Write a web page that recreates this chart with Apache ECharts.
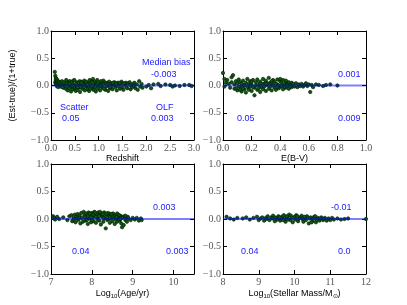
<!DOCTYPE html>
<html><head><meta charset="utf-8">
<script src="https://cdn.jsdelivr.net/npm/echarts@6/dist/echarts.min.js"></script>
<style>html,body{margin:0;padding:0;background:#fff}#c{width:407px;height:305px}</style>
</head><body><div id="c"></div>
<script>
// ---------- data ----------
const yTicks = [-1.0, -0.5, 0.0, 0.5, 1.0];
const redshiftTicks = [0.0, 0.5, 1.0, 1.5, 2.0, 2.5, 3.0];
const ebvTicks = [0.0, 0.2, 0.4, 0.6, 0.8, 1.0];
const ageTicks = [7, 8, 9, 10];
const massTicks = [8, 9, 10, 11, 12];

const redshiftPts = [
 [0.08,0.25],[0.09,0.18],[0.10,0.14],[0.10,0.10],[0.11,0.08],[0.09,0.06],[0.12,0.12],[0.10,0.04],[0.11,0.02],[0.12,-0.01],
 [0.13,0.05],[0.14,0.09],[0.15,0.03],[0.16,0.07],[0.15,-0.03],[0.17,0.01],[0.18,0.04],[0.20,0.06],[0.20,-0.02],[0.22,0.03],
 [0.23,0.08],[0.25,0.00],[0.26,-0.04],[0.28,0.02],[0.30,0.05],[0.31,-0.06],[0.32,0.10],[0.35,-0.09],[0.36,0.02],[0.37,0.07],
 [0.40,0.08],[0.41,-0.03],[0.42,-0.11],[0.44,0.04],[0.46,-0.07],[0.47,0.09],[0.49,0.10],[0.50,-0.05],[0.51,0.01],[0.52,-0.10],
 [0.54,0.06],[0.55,-0.08],[0.57,0.03],[0.59,-0.04],[0.60,0.08],[0.61,-0.12],[0.63,0.02],[0.65,0.07],[0.66,-0.06],[0.68,0.04],
 [0.70,0.09],[0.71,-0.09],[0.72,0.04],[0.74,-0.02],[0.75,0.06],[0.77,-0.07],[0.79,0.05],[0.80,-0.10],[0.81,0.10],[0.83,0.03],
 [0.85,-0.05],[0.86,0.08],[0.88,0.12],[0.89,-0.08],[0.90,0.02],[0.92,0.07],[0.94,-0.11],[0.95,0.04],[0.97,0.10],[0.98,-0.06],
 [1.00,0.01],[1.01,0.05],[1.03,-0.09],[1.05,0.08],[1.06,0.03],[1.08,-0.04],[1.10,0.09],[1.12,0.06],[1.14,-0.08],[1.16,-0.02],
 [1.18,0.05],[1.20,-0.10],[1.22,0.07],[1.24,-0.05],[1.27,0.04],[1.29,-0.07],[1.31,0.02],[1.33,0.06],[1.35,-0.03],[1.38,-0.09],
 [1.40,0.05],[1.43,0.03],[1.45,-0.06],[1.48,0.07],[1.50,-0.04],[1.52,-0.08],[1.55,0.02],[1.57,0.05],[1.60,-0.05],[1.62,0.04],
 [1.65,0.06],[1.67,-0.07],[1.70,-0.03],[1.72,0.03],[1.75,0.05],[1.77,-0.05],[1.80,0.02],[1.82,-0.08],[1.85,0.08],[1.87,-0.02],
 [1.90,0.03],[1.92,-0.04],[0.24,-0.03],[0.33,0.04],[0.38,-0.05],[0.43,0.06],[0.48,-0.02],[0.53,0.03],[0.58,0.05],[0.62,-0.03],
 [0.67,0.01],[0.73,0.07],[0.78,-0.01],[0.84,-0.03],[0.91,-0.04],[0.96,0.02],[1.02,-0.02],[1.09,0.02],[1.15,0.04],[1.21,0.02],
 [1.26,-0.02],[1.34,0.01],[1.42,-0.02],[1.47,0.02],[1.58,-0.02],[1.66,0.01],[1.74,-0.01],
 [0.27,0.06],[0.34,-0.02],[0.39,0.03],[0.45,0.00],[0.56,-0.03],[0.64,0.05],[0.69,-0.03],[0.76,0.02],[0.82,-0.06],[0.87,0.05],
 [0.93,-0.02],[0.99,0.06],[1.04,0.00],[1.11,-0.06],[1.17,0.02],[1.23,-0.03],[1.30,0.05],[1.37,0.03],[1.44,0.05],[1.53,0.04],
 [2.00,-0.02],[2.05,0.01],[2.10,-0.05],[2.15,0.02],[2.25,0.03],[2.30,-0.01],[2.40,0.02],[2.50,0.01],[2.55,-0.02],[2.60,0.00],
 [2.70,-0.01],[2.80,0.01],[2.90,0.01],[2.95,-0.01]
];

const ebvPts = [
 [0.00,0.23],[0.01,0.12],[0.02,0.05],[0.01,-0.02],[0.03,0.10],[0.04,0.03],[0.05,-0.04],[0.06,0.15],[0.06,0.06],[0.07,0.19],
 [0.08,-0.06],[0.08,0.02],[0.09,0.08],[0.10,-0.09],[0.10,0.04],[0.11,0.11],[0.12,-0.03],[0.12,0.06],[0.13,-0.11],[0.14,0.01],
 [0.14,0.09],[0.15,-0.07],[0.16,0.05],[0.16,-0.13],[0.17,0.12],[0.18,-0.05],[0.18,0.03],[0.19,0.08],[0.20,-0.10],[0.20,0.02],
 [0.21,0.10],[0.22,-0.18],[0.22,-0.04],[0.23,0.06],[0.24,-0.08],[0.24,0.11],[0.25,0.01],[0.26,-0.12],[0.26,0.07],[0.27,-0.03],
 [0.28,0.12],[0.28,-0.07],[0.29,0.04],[0.30,-0.10],[0.30,0.09],[0.31,0.01],[0.32,-0.06],[0.32,0.14],[0.33,0.05],[0.34,-0.09],
 [0.34,0.03],[0.35,0.10],[0.36,-0.04],[0.36,0.07],[0.37,-0.08],[0.38,0.11],[0.38,0.02],[0.39,-0.05],[0.40,0.08],[0.40,-0.02],
 [0.41,0.05],[0.42,-0.07],[0.42,0.10],[0.43,0.02],[0.44,-0.04],[0.44,0.07],[0.45,0.04],[0.46,-0.06],[0.46,0.06],[0.47,0.01],
 [0.48,-0.03],[0.48,0.05],[0.49,0.03],[0.50,-0.02],[0.51,0.04],[0.52,-0.03],[0.53,0.02],[0.54,-0.01],[0.55,0.03],[0.56,-0.02],
 [0.57,0.01],[0.58,0.04],[0.59,-0.01],[0.60,0.02],[0.61,-0.12],[0.62,0.01],[0.63,-0.03],[0.65,0.02],[0.67,0.01],[0.70,-0.01],
 [0.72,0.01],[0.75,0.02],[0.80,0.00],
 [0.11,-0.02],[0.13,0.03],[0.15,0.00],[0.17,-0.02],[0.19,-0.01],[0.21,-0.03],[0.23,0.00],[0.25,-0.05],[0.27,0.03],[0.29,-0.02],
 [0.31,0.04],[0.33,-0.02],[0.35,0.00],[0.37,0.03],[0.39,0.00],[0.41,-0.01],[0.43,-0.02],[0.45,0.00],[0.47,-0.02],[0.09,-0.05],
 [0.12,-0.08],[0.14,-0.06],[0.18,-0.08],[0.20,0.07],[0.26,0.04],[0.30,0.03],[0.34,0.08],[0.38,-0.03],[0.40,0.12],[0.44,0.09]
];

const agePts = [
 [7.05,0.05],[7.08,0.02],[7.10,-0.01],[7.15,0.04],[7.20,0.00],[7.30,0.03],[7.40,-0.02],[7.45,0.05],[7.50,0.07],[7.52,-0.04],
 [7.55,0.02],[7.58,0.08],[7.60,-0.06],[7.62,0.04],[7.65,0.09],[7.67,-0.02],[7.70,0.06],[7.72,-0.08],[7.74,0.11],[7.76,0.02],
 [7.78,-0.05],[7.80,0.13],[7.82,0.07],[7.84,-0.03],[7.86,0.10],[7.88,0.04],[7.90,-0.09],[7.92,0.12],[7.94,0.01],[7.96,0.08],
 [7.98,-0.06],[8.00,0.11],[8.02,0.03],[8.04,-0.04],[8.06,0.13],[8.08,0.06],[8.10,-0.07],[8.12,0.09],[8.14,0.02],[8.16,0.12],
 [8.18,-0.03],[8.20,0.07],[8.22,-0.10],[8.24,0.10],[8.26,0.04],[8.28,-0.05],[8.30,0.12],[8.32,0.01],[8.34,-0.17],[8.36,0.08],
 [8.38,-0.02],[8.40,0.11],[8.42,0.05],[8.44,-0.07],[8.46,0.09],[8.48,0.02],[8.50,-0.04],[8.52,0.10],[8.54,0.03],[8.56,-0.09],
 [8.58,0.07],[8.60,0.01],[8.62,-0.05],[8.64,0.08],[8.66,0.03],[8.68,-0.03],[8.70,0.06],[8.72,-0.08],[8.74,-0.15],[8.76,0.04],
 [8.78,-0.11],[8.80,0.05],[8.82,-0.02],[8.84,0.03],[8.86,-0.05],[8.88,0.04],[8.90,0.01],[8.95,-0.02],[9.00,0.02],[9.05,-0.01],
 [9.10,0.02],[9.15,-0.03],[9.20,0.01],[9.22,-0.02],
 [7.64,0.01],[7.70,0.02],[7.84,0.03],[7.90,0.05],[7.98,0.03],[8.04,0.08],[8.10,0.04],[8.18,0.05],[8.26,0.09],[8.34,0.05],
 [8.42,0.00],[8.50,0.06],[8.58,-0.01],[8.66,0.07],[8.74,0.02],[8.82,0.06],[7.88,-0.02],[8.00,-0.02],[8.14,-0.01],[8.28,0.02],
 [8.44,0.03],[8.60,0.04],[8.70,0.00],[7.56,-0.01],[7.95,0.10],[8.08,0.12],[8.20,0.13],[8.35,0.10],[8.48,0.09],[8.62,0.10]
];

const massPts = [
 [8.10,0.04],[8.20,0.01],[8.30,-0.01],[8.40,0.02],[8.55,0.01],[8.65,0.03],[8.75,-0.01],[8.85,0.02],[8.95,0.04],[9.00,-0.02],
 [9.05,0.01],[9.10,0.03],[9.15,-0.03],[9.20,0.02],[9.25,0.05],[9.30,-0.02],[9.35,0.03],[9.40,0.06],[9.45,-0.04],[9.50,0.02],
 [9.55,0.05],[9.60,-0.03],[9.65,0.04],[9.70,0.07],[9.75,-0.05],[9.80,0.03],[9.85,0.08],[9.88,-0.02],[9.90,0.06],[9.95,-0.06],
 [10.00,0.04],[10.05,0.07],[10.10,-0.04],[10.15,0.03],[10.20,0.06],[10.25,-0.05],[10.30,0.02],[10.35,0.05],[10.40,-0.08],[10.45,0.03],
 [10.50,-0.04],[10.55,0.04],[10.60,-0.06],[10.65,0.02],[10.70,-0.03],[10.75,0.03],[10.80,-0.02],[10.85,0.02],[10.90,-0.03],[10.95,0.01],
 [11.00,-0.02],[11.05,0.02],[11.10,-0.01],[11.20,0.01],[11.30,-0.01],[11.40,0.00],[11.50,0.01],[12.00,0.00],
 [9.22,0.00],[9.38,0.01],[9.52,-0.01],[9.62,0.01],[9.72,0.00],[9.82,-0.01],[9.92,0.02],[10.02,-0.01],[10.12,0.01],[10.22,0.00],
 [10.32,-0.02],[10.42,0.01],[10.52,0.00],[10.62,-0.01],[10.72,0.01],[10.82,0.00],[9.45,0.03],[9.68,-0.02],[9.78,0.05],[10.08,0.05],
 [10.28,0.04],[10.48,-0.06],[10.58,0.05],[9.58,0.03]
];

// ---------- chart ----------
const chart = echarts.init(document.getElementById('c'), null, {renderer: 'canvas'});
const serif = 'Liberation Serif';
const sans = 'Liberation Sans';
const grids = [
  {left: 51, top: 31, width: 143, height: 109},
  {left: 223, top: 31, width: 143, height: 109},
  {left: 51, top: 164, width: 143, height: 110},
  {left: 223, top: 164, width: 143, height: 110}
];
const xDefs = [
  {ticks: redshiftTicks, min: 0, max: 3, interval: 0.5, dec: 1, name: 'Redshift'},
  {ticks: ebvTicks, min: 0, max: 1, interval: 0.2, dec: 1, name: 'E(B-V)'},
  {ticks: ageTicks, min: 7, max: 10.5, interval: 1, dec: 0, name: '{a|Log}{s|10}{a|(Age/yr)}'},
  {ticks: massTicks, min: 8, max: 12, interval: 1, dec: 0, name: '{a|Log}{s|10}{a|(Stellar Mass/M}{s|⊙}{a|)}'}
];
const allPts = [redshiftPts, ebvPts, agePts, massPts];
const fmt = (v, d) => {
  const s = Math.abs(v).toFixed(d);
  return '{f|' + (v < 0 ? '\u2212' : '') + s + '}';
};
const tickRich = {f: {fontFamily: serif, fontSize: 10, color: '#555'}};
const lineCommon = {onZero: false, lineStyle: {color: '#000', width: 1}};
const tickCommon = {inside: true, length: 4, lineStyle: {color: '#000'}};
const xAxis = [], yAxis = [], series = [];
grids.forEach((g, i) => {
  const d = xDefs[i];
  xAxis.push({
    type: 'value', gridIndex: i, min: d.min, max: d.max, interval: d.interval, position: 'bottom',
    axisLine: lineCommon, axisTick: tickCommon, splitLine: {show: false},
    axisLabel: {fontFamily: serif, fontSize: 10, color: '#555', margin: 3, rich: tickRich,
      formatter: v => d.ticks.some(t => Math.abs(t - v) < 1e-9) ? fmt(v, d.dec) : ''},
    name: d.name, nameLocation: 'middle', nameGap: 14,
    nameTextStyle: {fontFamily: sans, fontSize: 9, color: '#000',
      rich: {a: {fontFamily: sans, fontSize: 9, color: '#000'}, s: {fontFamily: sans, fontSize: 6, color: '#000', padding: [5, 0, 0, 0]}}}
  });
  xAxis.push({
    type: 'value', gridIndex: i, min: d.min, max: d.max, interval: d.interval, position: 'top',
    axisLine: lineCommon, axisTick: tickCommon, splitLine: {show: false}, axisLabel: {show: false}
  });
  yAxis.push({
    type: 'value', gridIndex: i, min: -1, max: 1, interval: 0.5, position: 'left',
    axisLine: lineCommon, axisTick: tickCommon, splitLine: {show: false},
    axisLabel: {fontFamily: serif, fontSize: 10, color: '#555', margin: 2, rich: tickRich,
      formatter: v => yTicks.some(t => Math.abs(t - v) < 1e-9) ? fmt(v, 1) : ''},
    name: i === 0 ? '(Est-true)/(1+true)' : '', nameLocation: 'middle', nameGap: 34,
    nameTextStyle: {fontFamily: sans, fontSize: 9, color: '#000'}
  });
  yAxis.push({
    type: 'value', gridIndex: i, min: -1, max: 1, interval: 0.5, position: 'right',
    axisLine: lineCommon, axisTick: tickCommon, splitLine: {show: false}, axisLabel: {show: false}
  });
  series.push({
    type: 'scatter', xAxisIndex: 2 * i, yAxisIndex: 2 * i, data: allPts[i],
    symbolSize: 3.4, z: 2,
    itemStyle: {color: '#0d5a0d', borderColor: '#001a00', borderWidth: 0.6, opacity: 1}
  });
  series.push({
    type: 'line', xAxisIndex: 2 * i, yAxisIndex: 2 * i, data: [[d.min, 0], [d.max, 0]],
    symbol: 'none', z: 5, silent: true,
    lineStyle: {color: 'rgba(0,0,255,0.5)', width: 1.8}
  });
});

const blue = '#1a1aff';
const txt = (x, y, s) => ({type: 'text', left: x, top: y,
  style: {text: s, fill: blue, font: '9px "Liberation Sans", Arial, sans-serif'}});
const graphic = [
  txt(142, 58, 'Median bias'), txt(151, 70, '-0.003'),
  txt(60, 103, 'Scatter'), txt(62, 114, '0.05'),
  txt(156, 103, 'OLF'), txt(151, 114, '0.003'),
  txt(338, 70, '0.001'), txt(237, 114, '0.05'), txt(338, 114, '0.009'),
  txt(153, 203, '0.003'), txt(72, 247, '0.04'), txt(166, 247, '0.003'),
  txt(331, 203, '-0.01'), txt(241, 247, '0.04'), txt(338, 247, '0.0')
];

chart.setOption({
  animation: false,
  backgroundColor: '#fff',
  grid: grids.map(g => Object.assign({containLabel: false}, g)),
  xAxis, yAxis, series, graphic
});
</script>
</body></html>
